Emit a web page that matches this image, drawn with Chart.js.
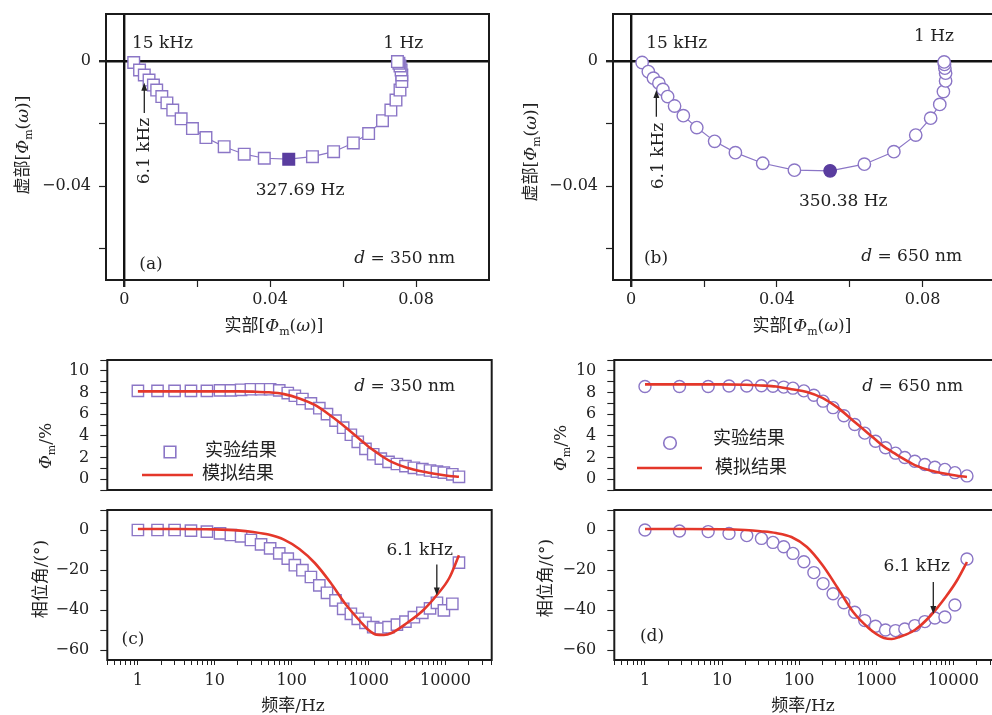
<!DOCTYPE html>
<html>
<head>
<meta charset="utf-8">
<script src="https://cdn.jsdelivr.net/npm/chart.js@4.4.0/dist/chart.umd.min.js"></script>
<style>
  html, body { margin: 0; padding: 0; background: #fff; width: 992px; height: 715px; overflow: hidden; position: relative; }
  canvas { position: absolute; }
</style>
</head>
<body>
<script>
// Nyquist plots, points run from 15 kHz down to 1 Hz
const reA = [0.0026, 0.0042, 0.0055, 0.0068, 0.0080, 0.0089, 0.0103, 0.0117, 0.0133, 0.0156, 0.0187, 0.0224, 0.0274, 0.0329, 0.0384, 0.0451, 0.0516, 0.0574, 0.0628, 0.0670, 0.0708, 0.0731, 0.0745, 0.0756, 0.0761, 0.0761, 0.0759, 0.0756, 0.0753, 0.0749];
const imA = [-0.0005, -0.0029, -0.0045, -0.0061, -0.0077, -0.0093, -0.0114, -0.0134, -0.0157, -0.0185, -0.0216, -0.0245, -0.0274, -0.0298, -0.0311, -0.0314, -0.0306, -0.0290, -0.0262, -0.0232, -0.0191, -0.0157, -0.0125, -0.0093, -0.0066, -0.0045, -0.0029, -0.0016, -0.0007, -0.0002];
const peakA = 15; // 327.69 Hz

const reB = [0.0030, 0.0047, 0.0061, 0.0076, 0.0087, 0.0100, 0.0119, 0.0143, 0.0180, 0.0229, 0.0286, 0.0361, 0.0448, 0.0546, 0.0640, 0.0721, 0.0781, 0.0822, 0.0847, 0.0857, 0.0863, 0.0863, 0.0861, 0.0860, 0.0859];
const imB = [-0.0005, -0.0034, -0.0055, -0.0071, -0.0091, -0.0114, -0.0144, -0.0175, -0.0213, -0.0257, -0.0293, -0.0327, -0.0349, -0.0351, -0.0330, -0.0290, -0.0237, -0.0183, -0.0139, -0.0098, -0.0064, -0.0039, -0.0023, -0.0011, -0.0003];
const peakB = 13; // 350.38 Hz

// Measured spectra, d = 350 nm
const freqC = [1, 1.8, 3, 4.9, 7.9, 11.7, 16.2, 22, 29.5, 40, 52.5, 69, 89, 110, 138, 178, 229, 288, 372, 468, 589, 724, 912, 1150, 1445, 1820, 2340, 3020, 3890, 5010, 6310, 7760, 9550, 12300, 15000];
const magC = [8.15, 8.15, 8.15, 8.15, 8.15, 8.2, 8.2, 8.25, 8.3, 8.3, 8.3, 8.2, 7.95, 7.7, 7.4, 7.0, 6.55, 6.0, 5.4, 4.75, 4.1, 3.45, 2.8, 2.3, 1.9, 1.6, 1.4, 1.2, 1.05, 0.92, 0.8, 0.7, 0.6, 0.45, 0.22];
const phaseC = [0, 0, 0, -0.3, -0.8, -1.7, -2.5, -3.2, -5.0, -7.2, -9.2, -11.7, -14.3, -17.6, -20.1, -23.5, -27.7, -31.4, -35.2, -39.4, -41.9, -44.4, -46.4, -48.6, -49.3, -48.6, -47.3, -45.8, -43.6, -41.4, -39.2, -36.4, -40.2, -36.9, -16.3];

// Measured spectra, d = 650 nm
const freqD = [1, 2.8, 6.6, 12.3, 20.9, 32.4, 45.7, 63, 83, 115, 155, 204, 275, 380, 525, 708, 977, 1318, 1778, 2344, 3162, 4266, 5754, 7762, 10470, 15000];
const magD = [8.55, 8.55, 8.55, 8.6, 8.6, 8.62, 8.58, 8.5, 8.4, 8.15, 7.75, 7.2, 6.6, 5.85, 5.05, 4.25, 3.5, 2.9, 2.4, 2.0, 1.65, 1.35, 1.1, 0.9, 0.6, 0.3];
const phaseD = [0, -0.5, -0.8, -1.7, -2.8, -4.2, -6.2, -8.4, -11.7, -15.9, -21.3, -26.8, -31.9, -36.4, -41.1, -45.3, -48.1, -50.0, -50.3, -49.5, -47.8, -45.8, -44.0, -43.5, -37.5, -14.5];

// Simulated curves
const fitFreq = [1, 3.16, 10, 20, 31.6, 50, 79.4, 126, 200, 316, 501, 794, 1000, 1259, 1585, 1995, 3162, 5012, 7943, 11220, 15000];
const fitMagC = [8.1, 8.1, 8.1, 8.1, 8.08, 8.02, 7.85, 7.45, 6.85, 5.9, 4.8, 3.6, 3.0, 2.5, 2.0, 1.6, 1.05, 0.7, 0.45, 0.3, 0.22];
const fitPhaseC = [0.5, 0.5, 0.3, -0.2, -1.0, -2.3, -4.8, -9.5, -16.5, -26, -37, -46, -50, -52.3, -52.5, -51.5, -46.5, -40.5, -32, -24, -12.6];
const fitMagD = [8.75, 8.75, 8.75, 8.72, 8.65, 8.55, 8.3, 8.05, 7.5, 6.6, 5.4, 4.2, 3.6, 3.0, 2.55, 2.1, 1.3, 0.8, 0.5, 0.32, 0.2];
const fitPhaseD = [0.5, 0.5, 0.4, 0, -0.6, -1.5, -3.5, -8.5, -17.5, -29, -41, -49, -52, -54, -54.5, -53.5, -50, -43, -33.5, -25, -16];

const decades = [1, 10, 100, 1000, 10000];

const SERIF = '"DejaVu Serif", "Liberation Serif", serif';
const CJK = '"Noto Sans CJK SC", "Noto Sans CJK JP", sans-serif';
const FONTS = {
  r: '17px ' + SERIF,
  i: 'italic 17px ' + SERIF,
  s: '11px ' + SERIF,
  c: '17px ' + CJK,
  L: '18px ' + CJK
};
const TICK_FONT = { family: SERIF, size: 16 };
const INK = '#222';
const PURPLE = '#8b76c6';
const PURPLE_DARK = '#5a3d9f';
const RED = '#e4372a';
const NONE = 'rgba(0,0,0,0)';

// text pieces with mixed fonts: [text, font key, baseline shift]
const reTitle = [['实部', 'c'], ['[', 'r'], ['Φ', 'i'], ['m', 's', 4], ['(', 'r'], ['ω', 'i'], [')]', 'r']];
const imTitle = [['虚部', 'c'], ['[', 'r'], ['Φ', 'i'], ['m', 's', 4], ['(', 'r'], ['ω', 'i'], [')]', 'r']];
const magTitle = [['Φ', 'i'], ['m', 's', 4], ['/%', 'r']];
const phaseTitle = [['相位角', 'c'], ['/(°)', 'r']];
const freqTitle = [['频率', 'c'], ['/Hz', 'r']];
const run = s => [[s, 'r']];
const dLabel = s => [['d', 'i'], [' = ' + s + ' nm', 'r']];

function drawRuns(ctx, runs, x, y, align, rot) {
  ctx.save();
  ctx.translate(x, y);
  if (rot) ctx.rotate(rot);
  let w = 0;
  runs.forEach(r => { ctx.font = FONTS[r[1]]; w += ctx.measureText(r[0]).width; });
  let cx = align === 'left' ? 0 : align === 'right' ? -w : -w / 2;
  ctx.textAlign = 'left';
  ctx.textBaseline = 'alphabetic';
  ctx.fillStyle = INK;
  runs.forEach(r => {
    ctx.font = FONTS[r[1]];
    ctx.fillText(r[0], cx, 6 + (r[2] || 0));
    cx += ctx.measureText(r[0]).width;
  });
  ctx.restore();
}

// frame, labels, arrows and legend drawn on top of each chart
const notes = {
  id: 'notes',
  afterDraw(chart, args, opts) {
    const ctx = chart.ctx, xs = chart.scales.x, ys = chart.scales.y, a = chart.chartArea;
    const off = opts.off;
    const P = (p, data) => data ? [xs.getPixelForValue(p[0]), ys.getPixelForValue(p[1])] : [p[0] - off[0], p[1] - off[1]];
    ctx.save();
    ctx.lineWidth = 2;
    ctx.strokeStyle = '#1b1b1b';
    ctx.strokeRect(a.left, a.top, a.right - a.left, a.bottom - a.top);
    for (const it of opts.items) {
      if (it.k === 'txt') {
        const [x, y] = P(it.at, it.data);
        drawRuns(ctx, it.runs, x, y, it.align || 'center', it.rot || 0);
      } else if (it.k === 'arrow') {
        const x = xs.getPixelForValue(it.x);
        const y0 = ys.getPixelForValue(it.from), y1 = ys.getPixelForValue(it.to);
        const dir = Math.sign(y1 - y0);
        ctx.strokeStyle = INK; ctx.fillStyle = INK; ctx.lineWidth = 1.3;
        ctx.beginPath(); ctx.moveTo(x, y0); ctx.lineTo(x, y1 - dir * 6); ctx.stroke();
        ctx.beginPath(); ctx.moveTo(x, y1); ctx.lineTo(x - 3, y1 - dir * 8); ctx.lineTo(x + 3, y1 - dir * 8); ctx.closePath(); ctx.fill();
      } else if (it.k === 'mark') {
        const [x, y] = P(it.at, false);
        ctx.strokeStyle = PURPLE; ctx.lineWidth = 1.6; ctx.fillStyle = '#fff';
        ctx.beginPath();
        if (it.style === 'rect') ctx.rect(x - it.r, y - it.r, 2 * it.r, 2 * it.r);
        else ctx.arc(x, y, it.r, 0, Math.PI * 2);
        ctx.fill(); ctx.stroke();
      } else if (it.k === 'seg') {
        const [x0, y0] = P(it.from, false), [x1, y1] = P(it.to, false);
        ctx.strokeStyle = RED; ctx.lineWidth = 2.6;
        ctx.beginPath(); ctx.moveTo(x0, y0); ctx.lineTo(x1, y1); ctx.stroke();
      }
    }
    ctx.restore();
  }
};

function makeCanvas(c) {
  const cv = document.createElement('canvas');
  cv.width = c.w; cv.height = c.h;
  cv.style.left = c.x + 'px'; cv.style.top = c.y + 'px';
  cv.style.width = c.w + 'px'; cv.style.height = c.h + 'px';
  document.body.appendChild(cv);
  return cv;
}

function baseOptions(c, f, showX, items) {
  return {
    responsive: false, animation: false, devicePixelRatio: 1, events: [],
    layout: { padding: { left: 0, top: f.t - c.y, right: c.x + c.w - f.r, bottom: showX ? 0 : c.y + c.h - f.b } },
    plugins: { legend: { display: false }, tooltip: { enabled: false }, notes: { off: [c.x, c.y], items } }
  };
}

const isZero = ctx => ctx.tick && Math.abs(ctx.tick.value) < 1e-9;

function nyquistChart(c, f, re, im, peak, style, radius, items) {
  const opts = baseOptions(c, f, true, items);
  const zeroGrid = {
    drawOnChartArea: true,
    color: ctx => isZero(ctx) ? '#111' : NONE,
    lineWidth: ctx => isZero(ctx) ? 2.4 : 1,
    tickLength: 7,
    tickColor: ctx => ctx.tick && ctx.tick.value > 0.09 ? NONE : INK,
    tickWidth: ctx => isZero(ctx) ? 2.4 : 1.2
  };
  opts.scales = {
    x: {
      type: 'linear', min: -0.005, max: 0.1,
      ticks: {
        stepSize: 0.02, includeBounds: false, maxTicksLimit: 30, autoSkip: false, maxRotation: 0,
        padding: 3, color: INK, font: TICK_FONT,
        callback: v => { const k = Math.round(v * 100); return k >= 0 && k <= 8 && k % 4 === 0 ? (k === 0 ? '0' : v.toFixed(2)) : ''; }
      },
      grid: zeroGrid, border: { display: false },
      afterFit: s => { s.height = c.y + c.h - f.b; }
    },
    y: {
      type: 'linear', min: -0.07, max: 0.015,
      ticks: {
        stepSize: 0.02, includeBounds: false, maxTicksLimit: 30, autoSkip: false,
        padding: 8, color: INK, font: TICK_FONT,
        callback: v => { const k = Math.round(v * 100); return k === 0 ? '0' : k === -4 ? '\u22120.04' : ''; }
      },
      grid: zeroGrid, border: { display: false },
      afterFit: s => { s.width = f.l - c.x; }
    }
  };
  return new Chart(makeCanvas(c), {
    type: 'scatter',
    data: {
      datasets: [{
        data: re.map((x, i) => ({ x, y: im[i] })),
        showLine: true, borderColor: PURPLE, borderWidth: 1.2, tension: 0,
        pointStyle: style, pointRadius: radius, pointBorderWidth: 1.4,
        pointBorderColor: re.map((_, i) => i === peak ? PURPLE_DARK : PURPLE),
        pointBackgroundColor: re.map((_, i) => i === peak ? PURPLE_DARK : '#fff')
      }]
    },
    options: opts,
    plugins: [notes]
  });
}

const logTicks = [];
for (let e = -1; e <= 4; e++) {
  for (let m = 1; m <= 9; m++) {
    const v = +(m * Math.pow(10, e)).toPrecision(3);
    if (v >= 0.4 && v <= 40000) logTicks.push(v);
  }
}

function bodeChart(c, f, showX, yCfg, freq, vals, fitVals, style, radius, items) {
  const opts = baseOptions(c, f, showX, items);
  opts.scales = {
    x: {
      type: 'logarithmic', min: 0.4, max: 40000, display: showX,
      afterBuildTicks: s => { s.ticks = logTicks.map(v => ({ value: v })); },
      ticks: {
        autoSkip: false, maxRotation: 0, padding: 6, color: INK, font: TICK_FONT,
        callback: v => decades.includes(v) ? String(v) : ''
      },
      grid: { drawOnChartArea: false, tickLength: 5, tickColor: INK, tickWidth: 1 },
      border: { display: false },
      afterFit: s => { s.height = c.y + c.h - f.b; }
    },
    y: {
      type: 'linear', min: yCfg.min, max: yCfg.max,
      ticks: {
        stepSize: yCfg.step, includeBounds: false, maxTicksLimit: 30, autoSkip: false,
        padding: 11, color: INK, font: TICK_FONT, callback: yCfg.label
      },
      grid: { drawOnChartArea: false, tickLength: 7, tickColor: INK, tickWidth: 1.1 },
      border: { display: false },
      afterFit: s => { s.width = f.l - c.x; }
    }
  };
  return new Chart(makeCanvas(c), {
    type: 'scatter',
    data: {
      datasets: [{
        data: fitFreq.map((x, i) => ({ x, y: fitVals[i] })),
        showLine: true, borderColor: RED, borderWidth: 2.6, pointRadius: 0,
        cubicInterpolationMode: 'monotone', order: 0
      }, {
        data: freq.map((x, i) => ({ x, y: vals[i] })),
        showLine: false, pointStyle: style, pointRadius: radius, pointBorderWidth: 1.4,
        pointBorderColor: PURPLE, pointBackgroundColor: '#fff', order: 1
      }]
    },
    options: opts,
    plugins: [notes]
  });
}

const magAxis = { min: -1, max: 11, step: 1, label: v => v >= 0 && v <= 10 && v % 2 === 0 ? String(v) : '' };
const phaseAxis = { min: -65, max: 10, step: 10, label: v => v <= 0 && v % 20 === 0 ? (v === 0 ? '0' : '\u2212' + (-v)) : '' };
const ROT = -Math.PI / 2;

// (a) d = 350 nm
nyquistChart({ x: 0, y: -10, w: 500, h: 355 }, { l: 106, t: 14, r: 489, b: 280 }, reA, imA, peakA, 'rect', 8.2, [
  { k: 'txt', runs: run('15 kHz'), at: [0.0021, 0.0062], data: true, align: 'left' },
  { k: 'txt', runs: run('1 Hz'), at: [0.0765, 0.0061], data: true },
  { k: 'txt', runs: run('327.69 Hz'), at: [0.0482, -0.041], data: true },
  { k: 'txt', runs: run('6.1 kHz'), at: [0.0052, -0.0288], data: true, rot: ROT },
  { k: 'arrow', x: 0.0055, from: -0.0166, to: -0.007 },
  { k: 'txt', runs: run('(a)'), at: [151, 263] },
  { k: 'txt', runs: dLabel('350'), at: [455, 257], align: 'right' },
  { k: 'txt', runs: imTitle, at: [22, 145], rot: ROT },
  { k: 'txt', runs: reTitle, at: [274, 325] }
]);

// (b) d = 650 nm
nyquistChart({ x: 507, y: -10, w: 500, h: 355 }, { l: 613, t: 14, r: 995.5, b: 280 }, reB, imB, peakB, 'circle', 6.2, [
  { k: 'txt', runs: run('15 kHz'), at: [0.0041, 0.0062], data: true, align: 'left' },
  { k: 'txt', runs: run('1 Hz'), at: [0.0831, 0.0083], data: true },
  { k: 'txt', runs: run('350.38 Hz'), at: [0.0582, -0.0443], data: true },
  { k: 'txt', runs: run('6.1 kHz'), at: [0.0072, -0.0304], data: true, rot: ROT },
  { k: 'arrow', x: 0.0069, from: -0.0178, to: -0.0093 },
  { k: 'txt', runs: run('(b)'), at: [656, 257] },
  { k: 'txt', runs: dLabel('650'), at: [962, 255], align: 'right' },
  { k: 'txt', runs: imTitle, at: [530, 152], rot: ROT },
  { k: 'txt', runs: reTitle, at: [802, 325] }
]);

// (c) d = 350 nm, amplitude and phase
bodeChart({ x: 0, y: 336, w: 502, h: 194 }, { l: 107.3, t: 360, r: 491.7, b: 510 }, false, magAxis,
  freqC, magC, fitMagC, 'rect', 8.0, [
  { k: 'txt', runs: dLabel('350'), at: [455, 385], align: 'right' },
  { k: 'mark', style: 'rect', r: 5.8, at: [170, 452] },
  { k: 'txt', runs: [['实验结果', 'L']], at: [205, 450], align: 'left' },
  { k: 'seg', from: [142, 475], to: [193, 475] },
  { k: 'txt', runs: [['模拟结果', 'L']], at: [202, 473], align: 'left' },
  { k: 'txt', runs: magTitle, at: [45, 446], rot: ROT }
]);
bodeChart({ x: 0, y: 486, w: 502, h: 229 }, { l: 107.3, t: 510, r: 491.7, b: 660 }, true, phaseAxis,
  freqC, phaseC, fitPhaseC, 'rect', 8.0, [
  { k: 'txt', runs: run('6.1 kHz'), at: [4630, -9.6], data: true },
  { k: 'arrow', x: 7730, from: -17.3, to: -32.7 },
  { k: 'txt', runs: run('(c)'), at: [133, 638] },
  { k: 'txt', runs: phaseTitle, at: [40, 579], rot: ROT },
  { k: 'txt', runs: freqTitle, at: [293, 705] }
]);

// (d) d = 650 nm, amplitude and phase
bodeChart({ x: 506, y: 336, w: 504, h: 194 }, { l: 614.3, t: 360, r: 999.8, b: 510 }, false, magAxis,
  freqD, magD, fitMagD, 'circle', 6.0, [
  { k: 'txt', runs: dLabel('650'), at: [963, 385], align: 'right' },
  { k: 'mark', style: 'circle', r: 6.3, at: [670, 443] },
  { k: 'txt', runs: [['实验结果', 'L']], at: [713, 438], align: 'left' },
  { k: 'seg', from: [637, 468], to: [702, 468] },
  { k: 'txt', runs: [['模拟结果', 'L']], at: [715, 467], align: 'left' },
  { k: 'txt', runs: magTitle, at: [560, 448], rot: ROT }
]);
bodeChart({ x: 506, y: 486, w: 504, h: 229 }, { l: 614.3, t: 510, r: 999.8, b: 660 }, true, phaseAxis,
  freqD, phaseD, fitPhaseD, 'circle', 6.0, [
  { k: 'txt', runs: run('6.1 kHz'), at: [3340, -17.3], data: true },
  { k: 'arrow', x: 5490, from: -26, to: -42 },
  { k: 'txt', runs: run('(d)'), at: [652, 635] },
  { k: 'txt', runs: phaseTitle, at: [545, 578], rot: ROT },
  { k: 'txt', runs: freqTitle, at: [803, 705] }
]);
</script>
</body>
</html>
